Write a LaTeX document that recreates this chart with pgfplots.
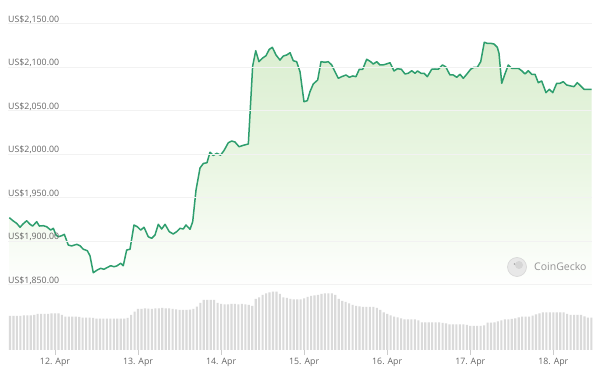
\documentclass[border=0pt]{standalone}
\usepackage{pgfplots}
\usepackage{pgfplotstable}
\pgfplotsset{compat=1.18}
\usepackage{fontspec}
\setmainfont{Open Sans}
\definecolor{cgline}{HTML}{2E9E6E}
\definecolor{cgfilltop}{HTML}{DAEED0}
\definecolor{cgfillmid}{HTML}{EAF6E3}
\definecolor{cgbar}{HTML}{DADADA}
\definecolor{cglabel}{HTML}{666666}

\pgfplotstableread{
d p
-0.550 1926.8
-0.502 1923.0
-0.461 1920.3
-0.421 1915.8
-0.389 1919.2
-0.341 1923.3
-0.301 1919.2
-0.269 1917.2
-0.220 1922.2
-0.189 1917.2
-0.141 1917.6
-0.100 1916.4
-0.052 1912.6
-0.020 1914.6
0.012 1906.9
0.040 1904.9
0.081 1906.1
0.112 1907.7
0.160 1895.4
0.201 1894.3
0.261 1896.2
0.301 1894.6
0.341 1890.5
0.389 1888.9
0.421 1883.1
0.461 1863.6
0.509 1866.7
0.550 1868.6
0.590 1867.5
0.623 1869.3
0.671 1871.6
0.710 1870.5
0.743 1871.3
0.791 1874.4
0.822 1871.6
0.863 1889.7
0.903 1890.5
0.951 1918.4
0.991 1916.4
1.032 1912.6
1.072 1915.8
1.123 1904.9
1.164 1903.1
1.204 1906.9
1.244 1919.2
1.285 1913.8
1.325 1919.2
1.376 1910.7
1.424 1908.1
1.465 1910.7
1.505 1914.6
1.545 1913.8
1.577 1918.4
1.626 1913.5
1.658 1922.2
1.698 1958.6
1.746 1983.9
1.786 1989.1
1.830 1990.0
1.866 2002.0
1.906 1998.3
1.947 2000.8
1.993 1998.6
2.035 2004.0
2.087 2013.0
2.128 2014.9
2.167 2013.8
2.216 2008.4
2.267 2010.0
2.328 2011.5
2.380 2101.1
2.417 2118.7
2.456 2106.1
2.496 2110.0
2.541 2113.0
2.580 2120.3
2.617 2122.6
2.661 2113.8
2.709 2108.0
2.749 2112.6
2.790 2113.8
2.830 2116.4
2.869 2107.2
2.910 2106.1
2.950 2094.6
2.998 2060.1
3.038 2061.3
3.070 2071.6
3.110 2080.5
3.163 2085.1
3.203 2106.1
3.251 2105.4
3.291 2106.1
3.332 2102.3
3.371 2094.6
3.411 2087.0
3.452 2088.9
3.504 2090.8
3.544 2088.2
3.585 2089.7
3.624 2088.9
3.664 2097.4
3.705 2097.4
3.753 2108.9
3.801 2106.1
3.833 2103.4
3.874 2106.1
3.913 2102.3
3.961 2102.6
4.034 2104.9
4.082 2095.4
4.122 2098.0
4.170 2097.4
4.214 2092.0
4.254 2092.8
4.295 2095.7
4.335 2092.8
4.365 2095.4
4.407 2092.8
4.443 2092.8
4.483 2088.9
4.536 2097.4
4.576 2097.7
4.615 2097.4
4.664 2102.3
4.704 2100.3
4.756 2090.8
4.796 2090.8
4.837 2088.2
4.877 2091.6
4.916 2087.0
4.957 2091.6
5.005 2097.4
5.045 2099.7
5.085 2099.7
5.126 2106.1
5.169 2128.4
5.205 2127.2
5.246 2127.2
5.286 2126.4
5.326 2122.6
5.346 2115.7
5.379 2081.3
5.418 2092.0
5.458 2102.3
5.499 2098.5
5.539 2098.5
5.579 2098.5
5.620 2095.7
5.659 2092.0
5.699 2095.7
5.740 2091.6
5.780 2091.6
5.819 2082.0
5.860 2083.9
5.912 2070.5
5.952 2074.4
5.993 2070.5
6.041 2081.3
6.081 2081.3
6.120 2083.1
6.161 2079.3
6.209 2078.2
6.249 2077.4
6.289 2082.0
6.330 2078.2
6.370 2074.4
6.462 2074.4
}\pricedata

\pgfplotstableread{
h v
-13 34
-12 34
-11 34
-10 34
-9 34.5
-8 34.7
-7 34.7
-6 35
-5 36
-4 36
-3 36
-2 36
-1 36.5
0 36.7
1 36.7
2 35
3 33.3
4 33.3
5 33.3
6 33.3
7 33
8 32.3
9 32.3
10 32.3
11 32
12 31.3
13 31.3
14 31.3
15 31.3
16 31.3
17 31.3
18 31.3
19 31.3
20 31.3
21 32
22 35
23 38.3
24 41
25 41
26 41.5
27 41.3
28 41
29 41.5
30 41.7
31 42
32 41.7
33 41.7
34 41
35 40.5
36 40
37 40
38 40
39 40.3
40 41
41 43.3
42 47
43 50
44 50
45 50
46 50
47 47
48 46
49 45.7
50 45.7
51 46
52 46
53 45.7
54 46
55 45.7
56 45
57 44
58 51
59 52.7
60 55
61 56.7
62 57.5
63 58.3
64 58.3
65 56
66 52.7
67 52
68 51
69 50.7
70 50.7
71 50.7
72 51.5
73 53
74 54
75 54.5
76 55
77 56
78 56.7
79 56.7
80 56.7
81 55
82 51
83 49
84 48
85 46.5
86 45
87 44
88 43.5
89 43
90 43
91 43
92 43
93 42
94 40
95 37.5
96 36
97 34.5
98 33.3
99 32.5
100 31.5
101 30.7
102 30.7
103 30.7
104 30.7
105 29.5
106 27.7
107 27.7
108 27.7
109 27.7
110 27.7
111 27.7
112 27.2
113 26.5
114 25.7
115 25.7
116 25.7
117 25.7
118 25.7
119 25.2
120 24
121 24
122 24
123 24
124 24.5
125 27.3
126 27.3
127 27.5
128 28.5
129 29.5
130 30.7
131 30.7
132 31
133 31.5
134 32.5
135 33.3
136 33.3
137 33.3
138 34.3
139 35.5
140 36.5
141 37.5
142 37.7
143 37.7
144 37.7
145 37.7
146 37.7
147 37.5
148 36
149 35
150 35
151 35
152 35
153 33.5
154 32.3
155 32.3
}\volumedata

\begin{document}
\begin{tikzpicture}[x=1pt,y=1pt]
\useasboundingbox (0,0) rectangle (600,375);
\fill[white] (0,0) rectangle (600,375);

% price axis
\begin{axis}[
  at={(8pt,85pt)}, anchor=south west,
  scale only axis, width=584pt, height=290pt,
  xmin=-0.5659, xmax=6.4660, ymin=1843.7, ymax=2177.0,
  axis on top,
  axis line style={draw=none},
  xtick=\empty,
  ytick={1850,1900,1950,2000,2050,2100,2150},
  yticklabels={{US\$1,850.00},{US\$1,900.00},{US\$1,950.00},{US\$2,000.00},{US\$2,050.00},{US\$2,100.00},{US\$2,150.00}},
  ymajorgrids,
  major grid style={draw=black!5, line width=0.7pt},
  major tick length=0pt,
  yticklabel style={anchor=base west, inner sep=0pt, yshift=1.2pt,
    font=\fontsize{8.8}{10}\selectfont, text=cglabel},
]
\addplot[draw=none, top color=cgfilltop, bottom color=white, middle color=cgfillmid]
  table[x=d,y=p] {\pricedata} -- (axis cs:6.462,1843.7) -- (axis cs:-0.550,1843.7) -- cycle;
\addplot[color=cgline, line width=1.5pt, line join=round] table[x=d,y=p] {\pricedata};
\end{axis}

% volume axis
\begin{axis}[
  at={(8pt,25pt)}, anchor=south west,
  scale only axis, width=584pt, height=60pt,
  xmin=-13.58, xmax=155.18, ymin=0, ymax=60,
  axis line style={draw=none},
  ytick=\empty,
  xtick={0,24,48,72,96,120,144},
  xticklabels={12. Apr,13. Apr,14. Apr,15. Apr,16. Apr,17. Apr,18. Apr},
  xtick pos=bottom, tick align=outside, major tick length=5pt,
  tick style={draw=black!20, line width=0.6pt},
  xticklabel style={font=\fontsize{8.8}{10}\selectfont, text=cglabel},
  clip=false,
]
\addplot[ybar, bar width=2.1pt, fill=cgbar, draw=none] table[x=h,y=v] {\volumedata};
\end{axis}

% CoinGecko watermark
\fill[black!9] (517,108) circle (9.5);
\draw[black!16, line width=0.6pt] (517,108) circle (9.5);
\fill[black!16] (519,110) circle (4);
\fill[black!35] (514.5,111) circle (0.9);
\node[anchor=west, inner sep=0pt, text=black!42, font=\fontsize{10.5}{12}\selectfont] at (534,108) {CoinGecko};
\end{tikzpicture}
\end{document}
